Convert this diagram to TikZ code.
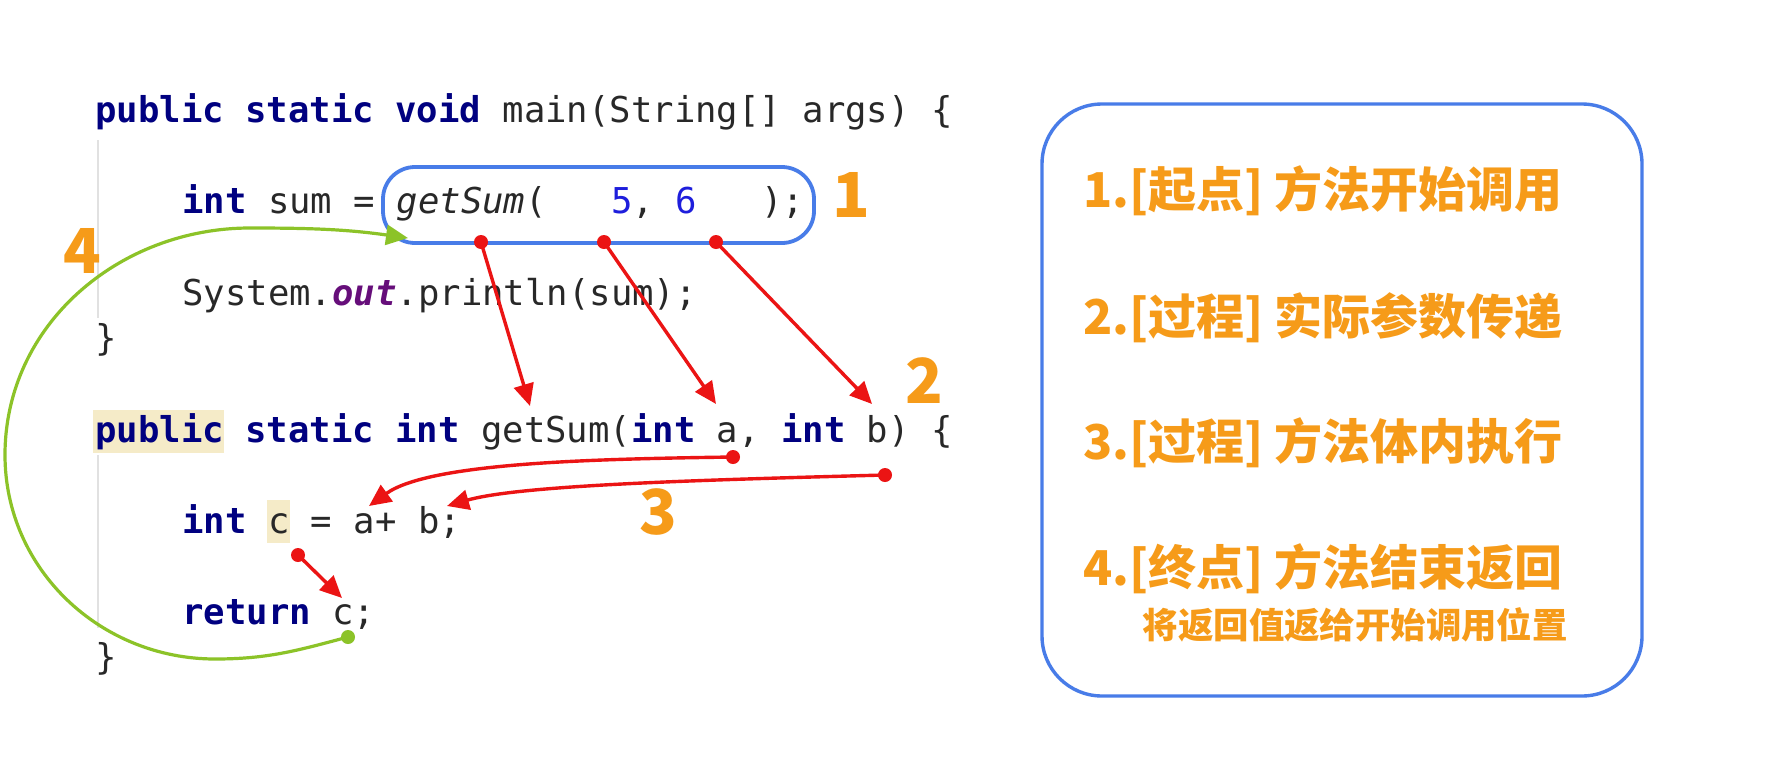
\documentclass[tikz,border=0pt]{standalone}
\usepackage{xcolor}
\usepackage{fontspec}
\usepackage{tikz}
\usetikzlibrary{arrows.meta}
\newfontfamily\codefont{DejaVu Sans Mono}
\newfontfamily\cjk{Noto Sans CJK SC}
\definecolor{kwnavy}{RGB}{0,0,128}
\definecolor{numblue}{RGB}{30,30,220}
\definecolor{fieldpurple}{RGB}{102,14,122}
\definecolor{codetext}{RGB}{40,40,40}
\definecolor{hlbeige}{RGB}{245,235,200}
\definecolor{guidegray}{RGB}{225,225,225}
\definecolor{boxblue}{RGB}{72,124,232}
\definecolor{passred}{RGB}{235,20,20}
\definecolor{backgreen}{RGB}{140,195,40}
\definecolor{steporange}{RGB}{246,155,25}
\newcommand{\kw}[1]{\textcolor{kwnavy}{\bfseries #1}}

\begin{document}
\begin{tikzpicture}[x=0.5pt, y=-0.5pt]
    % Definición de estilos
    \tikzstyle{code}=[font=\codefont\fontsize{17.8}{21}\selectfont, text=codetext, inner sep=0pt, anchor=base west]
    \tikzstyle{guide}=[draw=guidegray, line width=0.6pt]
    \tikzstyle{callbox}=[draw=boxblue, line width=1.9pt, rounded corners=16pt]
    \tikzstyle{panel}=[draw=boxblue, line width=1.7pt, rounded corners=30pt]
    \tikzstyle{pass}=[draw=passred, line width=1.7pt, -{Triangle[length=11pt,width=10pt]}]
    \tikzstyle{back}=[draw=backgreen, line width=1.6pt, -{Triangle[length=11pt,width=10pt]}]
    \tikzstyle{stepnum}=[font=\cjk\bfseries\fontsize{31}{31}\selectfont, text=steporange, inner sep=0pt]
    \tikzstyle{steptext}=[font=\cjk\bfseries\fontsize{24}{24}\selectfont, text=steporange, inner sep=0pt, anchor=west]
    % Fondo y marco del dibujo
    \fill[white] (0,0) rectangle (1766,766);
    \useasboundingbox (0,0) rectangle (1766,766);
    % Resaltados del editor
    \fill[hlbeige] (93,410) rectangle (224,453);
    \fill[hlbeige] (267,500) rectangle (290,543);
    % Guías de sangría
    \draw[guide] (98,140) -- (98,318);
    \draw[guide] (98,455) -- (98,628);
    % Código del método main
    \node[code] (main) at (95,122) {\kw{public static void} main(String[] args) \{};
    \node[code] (call) at (182,213) {\kw{int} sum = \textit{getSum}(~~~\textcolor{numblue}{5}, \textcolor{numblue}{6}~~~);};
    \node[code] (print) at (182,305) {System.\textcolor{fieldpurple}{\bfseries\itshape out}.println(sum);};
    \node[code] (mainend) at (95,350) {\}};
    % Código del método getSum
    \node[code] (decl) at (95,442) {\kw{public static int} getSum(\kw{int} a, \kw{int} b) \{};
    \node[code] (body) at (182,533) {\kw{int} c = a+ b;};
    \node[code] (ret) at (182,624) {\kw{return} c;};
    \node[code] (declend) at (95,669) {\}};
    % Marco de la llamada
    \draw[callbox] (383,167) rectangle (814,243);
    % Puntos de salida y llegada
    \coordinate (d1) at (481,242); \coordinate (t1) at (530,406);
    \coordinate (d2) at (604,242); \coordinate (t2) at (716,404);
    \coordinate (d3) at (716,242); \coordinate (t3) at (872,404);
    \coordinate (da) at (733,457); \coordinate (ta) at (369,506);
    \coordinate (db) at (885,475); \coordinate (tb) at (447,506);
    \coordinate (dc) at (298,555); \coordinate (tc) at (342,598);
    \coordinate (dr) at (348,637); \coordinate (tr) at (408,238);
    % Paso de parámetros (2)
    \draw[pass] (d1) -- (t1);
    \draw[pass] (d2) -- (t2);
    \draw[pass] (d3) -- (t3);
    % Ejecución del cuerpo (3)
    \draw[pass] (da) .. controls (600,459) and (430,462) .. (ta);
    \draw[pass] (db) .. controls (700,480) and (520,485) .. (tb);
    \draw[pass] (dc) -- (tc);
    \foreach \p in {d1,d2,d3,da,db,dc}
        \fill[passred] (\p) circle (3.5pt);
    % Retorno al punto de llamada (4)
    \draw[back] (dr) to[out=195,in=0] (215,659) to[out=180,in=-90] (5,455) to[out=90,in=180] (250,228) to[out=0,in=172] (tr);
    \fill[backgreen] (dr) circle (3.5pt);
    % Números de los pasos
    \node[stepnum] (n1) at (851,195) {1};
    \node[stepnum] (n2) at (924,381) {2};
    \node[stepnum] (n3) at (658,512) {3};
    \node[stepnum] (n4) at (82,251) {4};
    % Cuadro de la leyenda
    \draw[panel] (1042,104) rectangle (1642,696);
    \node[steptext] (s1) at (1083,191) {1.[起点] 方法开始调用};
    \node[steptext] (s2) at (1083,318) {2.[过程] 实际参数传递};
    \node[steptext] (s3) at (1083,443) {3.[过程] 方法体内执行};
    \node[steptext] (s4) at (1083,569) {4.[终点] 方法结束返回};
    \node[steptext, anchor=east, font=\cjk\bfseries\fontsize{17.7}{18}\selectfont] (s4b) at (1568,625) {将返回值返给开始调用位置};
\end{tikzpicture}
\end{document}
